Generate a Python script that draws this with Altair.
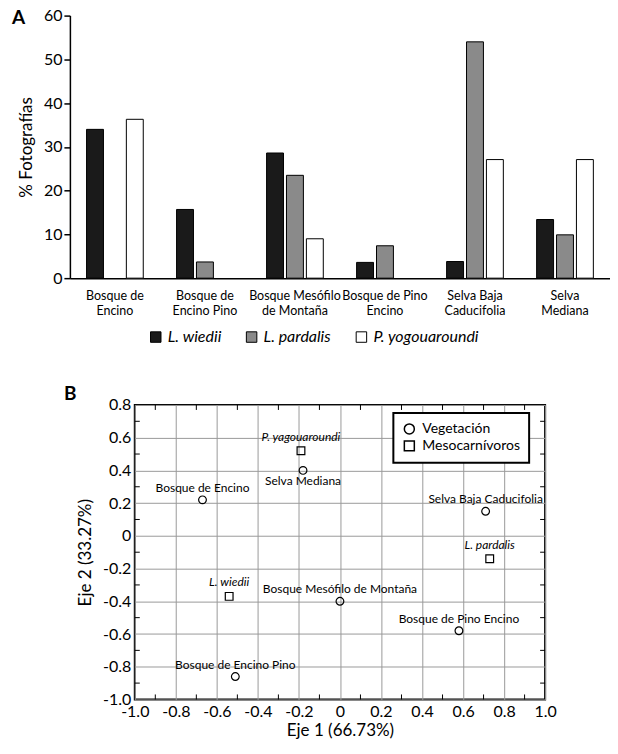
import altair as alt
import pandas as pd
import json

# ---------------- Panel A data ----------------
categories = ["Bosque de Encino", "Bosque de Encino Pino", "Bosque Mesófilo de Montaña",
              "Bosque de Pino Encino", "Selva Baja Caducifolia", "Selva Mediana"]
category_lines = [["Bosque de", "Encino"], ["Bosque de", "Encino Pino"],
                  ["Bosque Mesófilo", "de Montaña"], ["Bosque de Pino", "Encino"],
                  ["Selva Baja", "Caducifolia"], ["Selva", "Mediana"]]
species = ["L. wiedii", "L. pardalis", "P. yogouaroundi"]
wiedii = [34.0, 15.7, 28.6, 3.6, 3.8, 13.4]
pardalis = [0.0, 3.7, 23.5, 7.4, 54.0, 9.9]
yogouaroundi = [36.3, 0.0, 9.0, 0.0, 27.1, 27.1]
y_ticks_a = [0, 10, 20, 30, 40, 50, 60]

# ---------------- Panel B data ----------------
veg_names = ["Bosque de Encino", "Selva Mediana", "Selva Baja Caducifolia",
             "Bosque Mesófilo de Montaña", "Bosque de Pino Encino", "Bosque de Encino Pino"]
veg_x = [-0.67, -0.18, 0.71, 0.00, 0.58, -0.51]
veg_y = [0.22, 0.40, 0.15, -0.40, -0.58, -0.86]
carn_names = ["P. yagouaroundi", "L. pardalis", "L. wiedii"]
carn_x = [-0.19, 0.73, -0.54]
carn_y = [0.52, -0.14, -0.37]
groups = ["Vegetación", "Mesocarnívoros"]
x_ticks_b = [-1.0, -0.8, -0.6, -0.4, -0.2, 0.0, 0.2, 0.4, 0.6, 0.8, 1.0]
y_ticks_b = [-1.0, -0.8, -0.6, -0.4, -0.2, 0.0, 0.2, 0.4, 0.6, 0.8]
x_minor_b = [-0.9, -0.7, -0.5, -0.3, -0.1, 0.1, 0.3, 0.5, 0.7, 0.9]
y_minor_b = [-0.9, -0.7, -0.5, -0.3, -0.1, 0.1, 0.3, 0.5, 0.7]

FONT = "Lato"

# ---------------- Panel A ----------------
rows = []
for i, c in enumerate(categories):
    for s, vals in zip(species, [wiedii, pardalis, yogouaroundi]):
        rows.append({"Vegetación": c, "Especie": s, "Porcentaje": vals[i]})
bar_df = pd.DataFrame(rows)

label_map = "{" + ",".join(
    "%s: %s" % (json.dumps(c), json.dumps(l, ensure_ascii=False)) for c, l in zip(categories, category_lines)
) + "}"

bars = alt.Chart(bar_df).transform_filter("datum.Porcentaje > 0").mark_bar(
    stroke="black", strokeWidth=1
).encode(
    x=alt.X("Vegetación:N", sort=categories,
            scale=alt.Scale(domain=categories, paddingInner=0.37, paddingOuter=0.185),
            axis=alt.Axis(title=None, labelAngle=0, ticks=False, labelFontSize=12.5,
                          labelColor="black", labelPadding=11, domainColor="black",
                          domainWidth=1.5, labelExpr=label_map + "[datum.label]",
                          labelLineHeight=15, labelOverlap=False)),
    xOffset=alt.XOffset("Especie:N", sort=species,
                        scale=alt.Scale(domain=species, paddingInner=0.15, paddingOuter=0)),
    y=alt.Y("Porcentaje:Q", scale=alt.Scale(domain=[0, 60], nice=False),
            axis=alt.Axis(title="% Fotografías", values=y_ticks_a, grid=False,
                          labelFontSize=16, labelColor="black", titleFontSize=17,
                          titleFontWeight="normal", titleColor="black",
                          domainColor="black", domainWidth=1.5, tickColor="black",
                          tickWidth=1.5, tickSize=6, labelPadding=2, titlePadding=8,
                          labelOverlap=False)),
    fill=alt.Fill("Especie:N", sort=species,
                  scale=alt.Scale(domain=species, range=["#1a1a1a", "#8a8a8a", "#ffffff"]),
                  legend=alt.Legend(title=None, orient="none", direction="horizontal",
                                    legendX=78, legendY=314, symbolType="square",
                                    symbolSize=110, symbolStrokeColor="black",
                                    symbolStrokeWidth=1, labelFontSize=16,
                                    labelFontStyle="italic", labelColor="black",
                                    columnPadding=22, labelOffset=4)),
)

letter_a = alt.Chart(pd.DataFrame({"t": ["A"]})).mark_text(
    fontSize=19, fontWeight="bold", align="left", baseline="middle", color="black"
).encode(x=alt.value(-58), y=alt.value(2), text="t:N")

panel_a = alt.layer(bars, letter_a).properties(
    width=541, height=263, view=alt.ViewBackground(strokeWidth=0)
)

# ---------------- Panel B ----------------
pts_df = pd.DataFrame({
    "name": veg_names + carn_names,
    "x": veg_x + carn_x,
    "y": veg_y + carn_y,
    "Tipo": [groups[0]] * len(veg_names) + [groups[1]] * len(carn_names),
})

lab_expr = "datum.value == 0 ? '0' : (datum.value < 0 ? '-' + format(-datum.value, '.1f') : format(datum.value, '.1f'))"

xs = alt.X("x:Q", scale=alt.Scale(domain=[-1, 1], nice=False),
           axis=alt.Axis(title="Eje 1 (66.73%)", values=x_ticks_b, grid=True,
                         gridColor="#9a9a9a", gridWidth=1, ticks=False, domain=False,
                         labelFontSize=16, labelColor="black", titleFontSize=17,
                         titleFontWeight="normal", titleColor="black", labelExpr=lab_expr,
                         labelPadding=4, titlePadding=3, labelFlush=False,
                         labelOverlap=False))
ys = alt.Y("y:Q", scale=alt.Scale(domain=[-1, 0.8], nice=False),
           axis=alt.Axis(title="Eje 2 (33.27%)", values=y_ticks_b, grid=True,
                         gridColor="#9a9a9a", gridWidth=1, ticks=False, domain=False,
                         labelFontSize=16, labelColor="black", titleFontSize=17,
                         titleFontWeight="normal", titleColor="black", labelExpr=lab_expr,
                         labelPadding=4, titlePadding=8, labelFlush=False,
                         labelOverlap=False))

base = alt.Chart(pts_df)

points = base.mark_point(filled=False, color="black", strokeWidth=1.2, size=60, opacity=1).encode(
    x=xs, y=ys,
    shape=alt.Shape("Tipo:N",
                    scale=alt.Scale(domain=groups, range=["circle", "square"]),
                    legend=alt.Legend(title=None, orient="none", legendX=259, legendY=8,
                                      strokeColor="black", fillColor="white", padding=9,
                                      labelFontSize=14, labelColor="black",
                                      symbolSize=100, symbolStrokeColor="black",
                                      symbolStrokeWidth=1.5, symbolFillColor="white",
                                      rowPadding=1, labelOffset=6)),
)

veg_above = base.transform_filter(
    "datum.Tipo == 'Vegetación' && datum.name != 'Selva Mediana'"
).mark_text(baseline="bottom", dy=-5, fontSize=12, color="black").encode(
    x=xs, y=ys, text="name:N")
veg_below = base.transform_filter("datum.name == 'Selva Mediana'").mark_text(
    baseline="top", dy=6, fontSize=12, color="black").encode(x=xs, y=ys, text="name:N")
carn_lab = base.transform_filter("datum.Tipo == 'Mesocarnívoros'").mark_text(
    baseline="bottom", dy=-7, fontSize=12, fontStyle="italic", color="black").encode(
    x=xs, y=ys, text="name:N")

minor_x_df = pd.DataFrame({"x": x_minor_b})
minor_y_df = pd.DataFrame({"y": y_minor_b})
tick_top = alt.Chart(minor_x_df).mark_rule(color="black", strokeWidth=1).encode(
    x=xs, y=alt.value(0), y2=alt.value(5))
tick_bot = alt.Chart(minor_x_df).mark_rule(color="black", strokeWidth=1).encode(
    x=xs, y=alt.value(295), y2=alt.value(290))
tick_left = alt.Chart(minor_y_df).mark_rule(color="black", strokeWidth=1).encode(
    y=ys, x=alt.value(0), x2=alt.value(5))
tick_right = alt.Chart(minor_y_df).mark_rule(color="black", strokeWidth=1).encode(
    y=ys, x=alt.value(411), x2=alt.value(406))

letter_b = alt.Chart(pd.DataFrame({"t": ["B"]})).mark_text(
    fontSize=19, fontWeight="bold", align="left", baseline="middle", color="black"
).encode(x=alt.value(-71), y=alt.value(-11), text="t:N")

panel_b = alt.layer(points, veg_above, veg_below, carn_lab,
                    tick_top, tick_bot, tick_left, tick_right, letter_b).properties(
    width=411, height=295,
    view=alt.ViewBackground(stroke="black", strokeWidth=2),
)

chart = alt.vconcat(panel_a, panel_b, spacing=127, center=True, bounds="flush").configure(
    font=FONT, padding={"left": 4, "top": -1, "right": 0, "bottom": 0}
).configure_view(strokeWidth=0).configure_legend(strokeWidth=2).resolve_scale(shape="independent")

chart.save("out.html", embed_options={"renderer": "svg", "actions": False})
